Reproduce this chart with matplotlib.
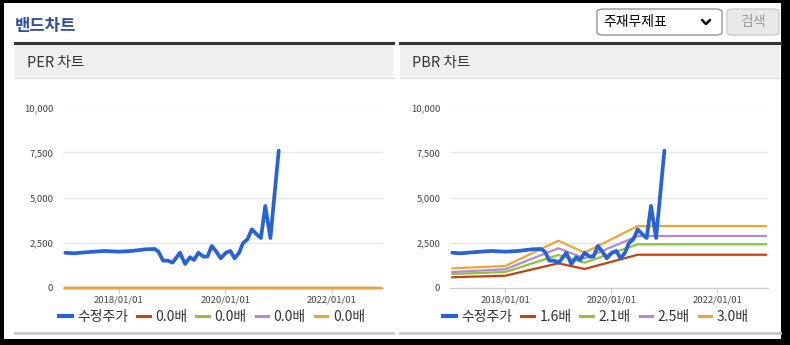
import matplotlib
matplotlib.use("Agg")
import matplotlib.pyplot as plt
import matplotlib.dates as mdates
import pandas as pd
from matplotlib.patches import FancyBboxPatch, Rectangle
from matplotlib.lines import Line2D
from matplotlib.ticker import FuncFormatter

plt.rcParams["font.family"] = ["Noto Sans CJK KR", "DejaVu Sans"]

W, H = 790, 345

# adjusted share price
price_dates = [
    "2017-01-01", "2017-03-01", "2017-05-10", "2017-09-25", "2018-01-01",
    "2018-04-01", "2018-07-01", "2018-09-05", "2018-10-01", "2018-11-01",
    "2018-12-05", "2019-01-05", "2019-02-25", "2019-04-01", "2019-05-05",
    "2019-06-01", "2019-07-01", "2019-08-05", "2019-09-01", "2019-10-01",
    "2019-11-01", "2019-12-01", "2020-01-05", "2020-02-05", "2020-03-05",
    "2020-04-05", "2020-05-01", "2020-06-01", "2020-07-01", "2020-08-05",
    "2020-09-01", "2020-10-01", "2020-11-05", "2021-01-01",
]
price = [
    1930, 1900, 1950, 2030, 1990,
    2030, 2120, 2140, 1990, 1490,
    1490, 1380, 1930, 1310, 1680,
    1530, 1930, 1710, 1720, 2310,
    1990, 1620, 1930, 2030, 1620,
    1930, 2460, 2680, 3230, 2940,
    2750, 4530, 2750, 7600,
]

# band dates shared by both charts
band_dates = ["2017-01-01", "2018-01-01", "2019-01-01", "2019-07-01", "2020-07-01", "2022-12-01"]

per_labels = ["0.0배", "0.0배", "0.0배", "0.0배"]
per_bands = [
    [0, 0, 0, 0, 0, 0],
    [0, 0, 0, 0, 0, 0],
    [0, 0, 0, 0, 0, 0],
    [0, 0, 0, 0, 0, 0],
]

pbr_labels = ["1.6배", "2.1배", "2.5배", "3.0배"]
pbr_bands = [
    [570, 655, 1345, 1030, 1820, 1820],
    [750, 860, 1805, 1380, 2400, 2400],
    [860, 1010, 2180, 1620, 2860, 2860],
    [1065, 1195, 2600, 1935, 3415, 3415],
]

yticks = [0, 2500, 5000, 7500, 10000]
xticks = ["2018-01-01", "2020-01-01", "2022-01-01"]

PRICE_COLOR = "#2763d4"
BAND_COLORS = ["#c9400f", "#8cc43c", "#b08ad9", "#f2a52e"]
TEXT_DARK = "#333333"


def fx(x):
    return x / W


def fy(y):
    return 1 - y / H


fig = plt.figure(figsize=(W / 100, H / 100), dpi=100)
fig.patch.set_facecolor("black")

# white page inside the black frame
fig.patches.append(Rectangle((fx(4), fy(339)), fx(781) - fx(4), fy(3) - fy(339),
                             transform=fig.transFigure, facecolor="white",
                             edgecolor="none", zorder=-5))

fig.text(fx(15), fy(25.5), "밴드차트", color="#2f4fa3", fontsize=12,
         fontweight="bold", va="center", ha="left")

# statement selector and search button
fig.patches.append(FancyBboxPatch((fx(597), fy(35)), fx(722) - fx(597), fy(9) - fy(35),
                                  boxstyle="round,pad=0,rounding_size=0.008",
                                  transform=fig.transFigure, facecolor="white",
                                  edgecolor="#8a8a8a", linewidth=0.9))
fig.text(fx(603), fy(22), "주재무제표", color="black", fontsize=10, va="center", ha="left")
fig.lines.append(Line2D([fx(702), fx(706), fx(710)], [fy(20), fy(24), fy(20)],
                        transform=fig.transFigure, color="black", linewidth=1.8,
                        solid_capstyle="round", solid_joinstyle="round"))
fig.patches.append(FancyBboxPatch((fx(727), fy(35)), fx(779) - fx(727), fy(9) - fy(35),
                                  boxstyle="round,pad=0,rounding_size=0.008",
                                  transform=fig.transFigure, facecolor="#e9e9e9",
                                  edgecolor="#c8c8c8", linewidth=0.9))
fig.text(fx(753), fy(22), "검색", color="#9a9a9a", fontsize=10, va="center", ha="center")


def panel_frame(x0, x1, title):
    fig.patches.append(Rectangle((fx(x0), fy(78)), fx(x1) - fx(x0), fy(44) - fy(78),
                                 transform=fig.transFigure, facecolor="#efefef",
                                 edgecolor="none", zorder=-4))
    fig.lines.append(Line2D([fx(x0), fx(x1)], [fy(43), fy(43)], transform=fig.transFigure,
                            color="#333333", linewidth=2.2))
    fig.lines.append(Line2D([fx(x0), fx(x1)], [fy(78), fy(78)], transform=fig.transFigure,
                            color="#dcdcdc", linewidth=0.8))
    fig.lines.append(Line2D([fx(x0), fx(x1)], [fy(333), fy(333)], transform=fig.transFigure,
                            color="#c8c8c8", linewidth=2.0))
    fig.text(fx(x0 + 12), fy(62.5), title, color=TEXT_DARK, fontsize=10.5,
             va="center", ha="left")


def band_chart(left_px, width_px, labels, bands, legend_x):
    ax = fig.add_axes([fx(left_px), fy(287.5), width_px / W, 180 / H])
    ax.set_facecolor("none")
    dates = pd.to_datetime(band_dates)
    for vals, color in zip(bands, BAND_COLORS):
        ax.plot(dates, vals, color=color, linewidth=1.6, solid_joinstyle="round",
                zorder=3, clip_on=False)
    ax.plot(pd.to_datetime(price_dates), price, color=PRICE_COLOR, linewidth=2.7,
            solid_joinstyle="round", solid_capstyle="round", zorder=4)

    ax.set_ylim(0, 10000)
    ax.set_xlim(pd.Timestamp("2016-12-16"), pd.Timestamp("2022-12-16"))
    ax.set_yticks(yticks)
    ax.yaxis.set_major_formatter(FuncFormatter(lambda v, _: f"{int(v):,}"))
    ax.set_xticks(pd.to_datetime(xticks))
    ax.xaxis.set_major_formatter(mdates.DateFormatter("%Y/%m/%d"))
    ax.tick_params(axis="y", length=0, pad=7, labelsize=6.8, labelcolor="#444444")
    ax.tick_params(axis="x", length=3.5, width=0.8, color="#c8c8c8", pad=2,
                   labelsize=6.8, labelcolor="#444444")
    ax.grid(axis="y", color="#e6e6e6", linewidth=0.9)
    ax.set_axisbelow(True)
    for side in ["top", "right", "left"]:
        ax.spines[side].set_visible(False)
    ax.spines["bottom"].set_color("#cccccc")
    ax.spines["bottom"].set_linewidth(0.9)

    handles = [Line2D([], [], color=PRICE_COLOR, linewidth=3)]
    handles += [Line2D([], [], color=c, linewidth=2.2) for c in BAND_COLORS]
    fig.legend(handles, ["수정주가"] + labels, loc="center",
               bbox_to_anchor=(fx(legend_x), fy(316.5)), ncol=5, frameon=False,
               fontsize=10, handlelength=0.9, handletextpad=0.4,
               columnspacing=0.65, labelcolor=TEXT_DARK, borderpad=0)
    return ax


panel_frame(15, 393, "PER 차트")
panel_frame(400, 780, "PBR 차트")

band_chart(63, 320, per_labels, per_bands, 212)
band_chart(450, 318, pbr_labels, pbr_bands, 596)

plt.savefig("out.png", dpi=100, facecolor=fig.get_facecolor())
plt.close()
